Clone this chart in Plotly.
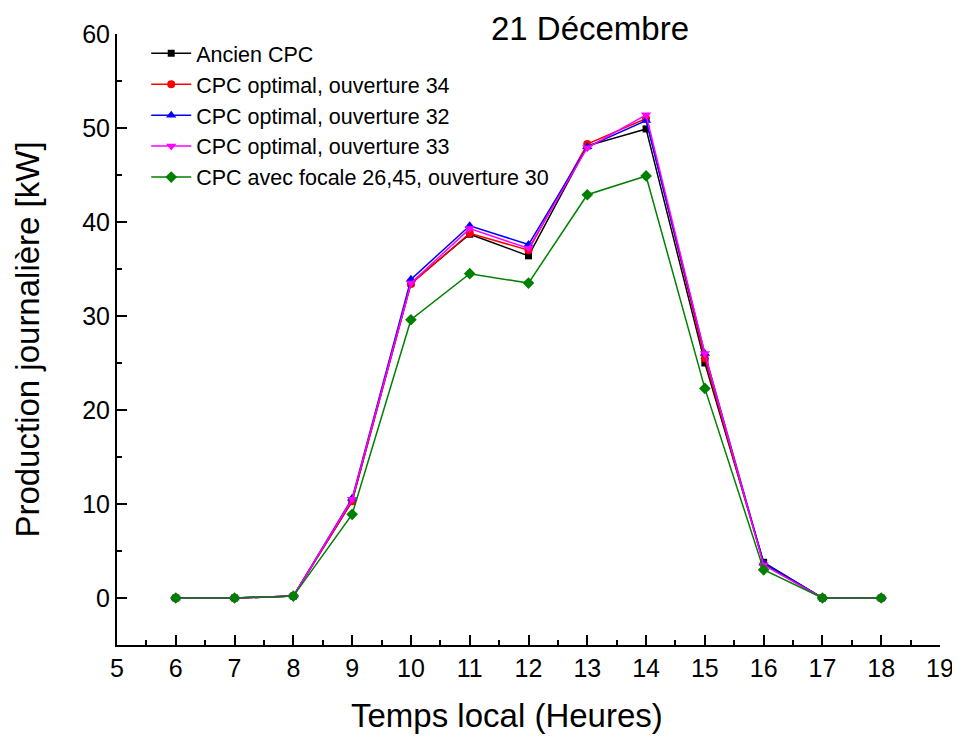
import plotly.graph_objects as go

hours = [6, 7, 8, 9, 10, 11, 12, 13, 14, 15, 16, 17, 18]
ancien = [0, 0, 0.2, 10.3, 33.5, 38.7, 36.4, 48.1, 49.9, 25.0, 3.8, 0, 0]
opt34 = [0, 0, 0.2, 10.3, 33.4, 38.8, 37.0, 48.3, 51.0, 25.5, 3.6, 0, 0]
opt32 = [0, 0, 0.2, 10.6, 33.9, 39.6, 37.6, 48.0, 50.8, 26.0, 3.7, 0, 0]
opt33 = [0, 0, 0.2, 10.5, 33.5, 39.3, 37.2, 47.9, 51.4, 26.0, 3.5, 0, 0]
focale = [0, 0, 0.2, 8.9, 29.6, 34.5, 33.5, 42.9, 44.9, 22.3, 3.0, 0, 0]

names = ["Ancien CPC", "CPC optimal, ouverture 34", "CPC optimal, ouverture 32",
         "CPC optimal, ouverture 33", "CPC avec focale 26,45, ouverture 30"]
series = [ancien, opt34, opt32, opt33, focale]
colors = ["#000000", "#FF0000", "#0000FF", "#FF00FF", "#008000"]
symbols = ["square", "circle", "triangle-up", "triangle-down", "diamond"]
sizes = [7, 8, 9, 9, 9]

font = "Liberation Sans, Arial, sans-serif"
fig = go.Figure()
for n, s, c, m, sz in zip(names, series, colors, symbols, sizes):
    fig.add_trace(go.Scatter(x=hours, y=s, name=n, mode="lines+markers",
                             line=dict(color=c, width=1.5),
                             marker=dict(color=c, symbol=m, size=sz)))

# page body has an 8px margin; compensate in the figure margins
fig.update_layout(
    width=960, height=737,
    margin=dict(l=109, r=28, t=26, b=100),
    paper_bgcolor="white", plot_bgcolor="white",
    font=dict(family=font, color="black"),
    title=dict(text="21 Décembre", x=582/960, xanchor="center", y=1-20/737, yanchor="middle",
               font=dict(size=33, family=font)),
    legend=dict(x=0.0355, y=1.002, xanchor="left", yanchor="top", bgcolor="rgba(0,0,0,0)",
                font=dict(size=21.5, family=font), tracegroupgap=0, itemwidth=40),
    showlegend=True,
)
fig.add_annotation(text="Temps local (Heures)", xref="paper", yref="paper",
                   x=0.474, y=-0.116, xanchor="center", yanchor="middle",
                   showarrow=False, font=dict(size=33, family=font, color="black"))
fig.update_xaxes(range=[5, 19], dtick=1, tick0=5, showgrid=False, zeroline=False,
                 showline=True, linecolor="black", linewidth=2, automargin=False,
                 ticks="inside", ticklen=10, tickwidth=2, tickcolor="black",
                 tickfont=dict(size=25, family=font),
                 minor=dict(ticks="inside", ticklen=5, tickwidth=2, tickcolor="black", dtick=0.5, tick0=5))
fig.update_yaxes(range=[-5, 60], dtick=10, tick0=0, showgrid=False, zeroline=False,
                 showline=True, linecolor="black", linewidth=2, automargin=False,
                 ticks="inside", ticklen=10, tickwidth=2, tickcolor="black",
                 tickfont=dict(size=25, family=font),
                 minor=dict(ticks="inside", ticklen=5, tickwidth=2, tickcolor="black", dtick=5, tick0=0),
                 title=dict(text="Production journalière [kW]", font=dict(size=33, family=font), standoff=33))

fig.write_html("out.html")
